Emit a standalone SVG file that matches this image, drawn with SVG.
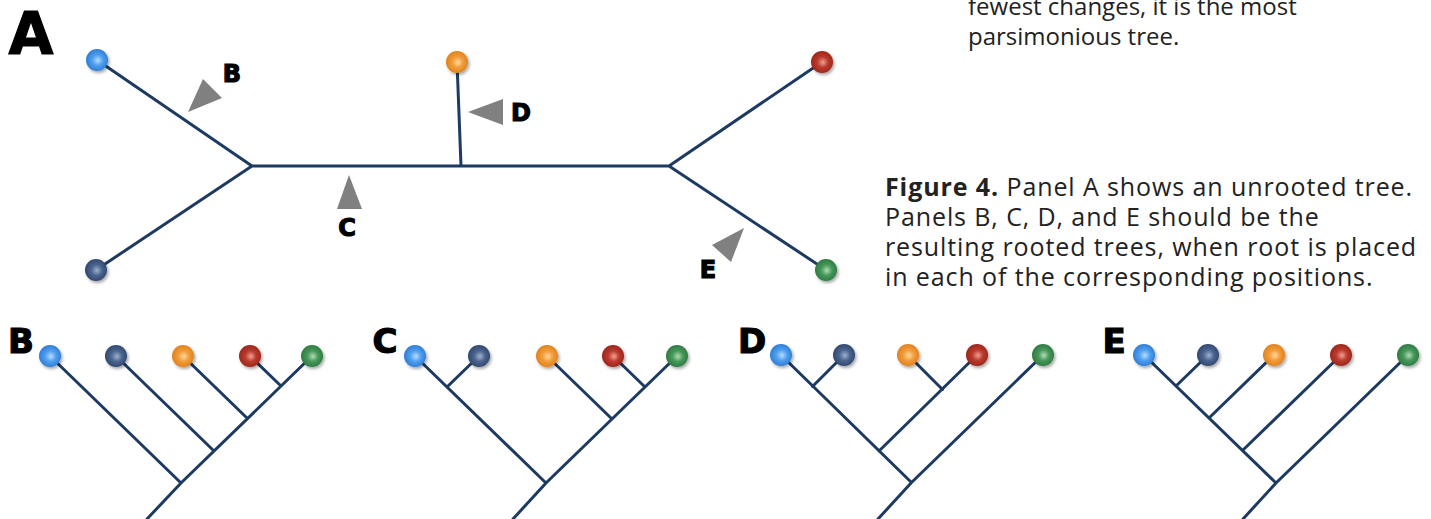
<svg xmlns="http://www.w3.org/2000/svg" width="1431" height="519" viewBox="0 0 1431 519">
<defs>
<radialGradient id="gBlue" cx="50%" cy="50%" r="55%" fx="55%" fy="52%"><stop offset="0" stop-color="#b5dcff"/><stop offset="0.45" stop-color="#4f9ff0"/><stop offset="1" stop-color="#2a78d0"/></radialGradient>
<radialGradient id="gNavy" cx="50%" cy="50%" r="55%" fx="55%" fy="52%"><stop offset="0" stop-color="#9fb2cc"/><stop offset="0.45" stop-color="#4b6590"/><stop offset="1" stop-color="#2d4468"/></radialGradient>
<radialGradient id="gOrange" cx="50%" cy="50%" r="55%" fx="55%" fy="52%"><stop offset="0" stop-color="#ffd8a0"/><stop offset="0.45" stop-color="#f29c38"/><stop offset="1" stop-color="#dc7e1c"/></radialGradient>
<radialGradient id="gRed" cx="50%" cy="50%" r="55%" fx="55%" fy="52%"><stop offset="0" stop-color="#f0a090"/><stop offset="0.45" stop-color="#bb3a2e"/><stop offset="1" stop-color="#972418"/></radialGradient>
<radialGradient id="gGreen" cx="50%" cy="50%" r="55%" fx="55%" fy="52%"><stop offset="0" stop-color="#b0dcb6"/><stop offset="0.45" stop-color="#46985a"/><stop offset="1" stop-color="#2c7640"/></radialGradient>
<filter id="sh" x="-50%" y="-50%" width="200%" height="200%"><feDropShadow dx="1.5" dy="2" stdDeviation="1.5" flood-color="#000" flood-opacity="0.35"/></filter>
<style>
.ln{stroke:#1d3a62;stroke-width:3;fill:none;stroke-linecap:round}
.n{filter:url(#sh)}
.blue{fill:url(#gBlue)}.navy{fill:url(#gNavy)}.orange{fill:url(#gOrange)}.red{fill:url(#gRed)}.green{fill:url(#gGreen)}
.arr{fill:#808080}
.lbl{font-family:"DejaVu Sans",sans-serif;font-weight:bold;fill:#000;stroke:#000;stroke-width:1.2;text-anchor:middle}
.cap{font-family:"Open Sans","Noto Sans",sans-serif;font-size:25px;letter-spacing:0.9px;fill:#222}
.top{font-family:"Open Sans","Noto Sans",sans-serif;font-size:24px;fill:#222}
</style>
</defs>
<rect width="1431" height="519" fill="#fff"/>

<g id="connectors">
<path class="ln" d="M97,60 L252,166 L96,270 M252,166 L669,166 M457,62 L461,166 M822,62 L669,166 L826,270"/>
<path class="ln" d="M312,356 L181,483 L147,519 M50,356 L181,483 M116,356 L214,451 M183,356 L247.5,418.5 M250,356 L281,386"/>
<path class="ln" d="M677,356 L546,483 L513,519 M415,356 L546,483 M479,356 L447,387 M547,356 L612,419 M613,356 L645,387"/>
<path class="ln" d="M1043,355 L911.5,482.5 L878,519 M781,355 L911.5,482.5 M844,355 L812.5,386.5 M977,355 L879,451 M908,355 L942.5,389.5"/>
<path class="ln" d="M1408,355 L1276,483 L1243,519 M1144,355 L1276,483 M1208,355 L1176,386 M1274,355 L1209,418 M1341,355 L1242.5,450.5"/>
</g>

<g id="panelA-nodes">
<g id="A-blue"><circle class="n blue" cx="97" cy="60" r="11"/></g>
<g id="A-navy"><circle class="n navy" cx="96" cy="270" r="11"/></g>
<g id="A-orange"><circle class="n orange" cx="457" cy="62" r="11"/></g>
<g id="A-red"><circle class="n red" cx="822" cy="62" r="11"/></g>
<g id="A-green"><circle class="n green" cx="826" cy="270" r="11"/></g>
</g>

<g id="panelB-nodes">
<g id="B-blue"><circle class="n blue" cx="50" cy="356" r="11"/></g>
<g id="B-navy"><circle class="n navy" cx="116" cy="356" r="11"/></g>
<g id="B-orange"><circle class="n orange" cx="183" cy="356" r="11"/></g>
<g id="B-red"><circle class="n red" cx="250" cy="356" r="11"/></g>
<g id="B-green"><circle class="n green" cx="312" cy="356" r="11"/></g>
</g>
<g id="panelC-nodes">
<g id="C-blue"><circle class="n blue" cx="415" cy="356" r="11"/></g>
<g id="C-navy"><circle class="n navy" cx="479" cy="356" r="11"/></g>
<g id="C-orange"><circle class="n orange" cx="547" cy="356" r="11"/></g>
<g id="C-red"><circle class="n red" cx="613" cy="356" r="11"/></g>
<g id="C-green"><circle class="n green" cx="677" cy="356" r="11"/></g>
</g>
<g id="panelD-nodes">
<g id="D-blue"><circle class="n blue" cx="781" cy="355" r="11"/></g>
<g id="D-navy"><circle class="n navy" cx="844" cy="355" r="11"/></g>
<g id="D-orange"><circle class="n orange" cx="908" cy="355" r="11"/></g>
<g id="D-red"><circle class="n red" cx="977" cy="355" r="11"/></g>
<g id="D-green"><circle class="n green" cx="1043" cy="355" r="11"/></g>
</g>
<g id="panelE-nodes">
<g id="E-blue"><circle class="n blue" cx="1144" cy="355" r="11"/></g>
<g id="E-navy"><circle class="n navy" cx="1208" cy="355" r="11"/></g>
<g id="E-orange"><circle class="n orange" cx="1274" cy="355" r="11"/></g>
<g id="E-red"><circle class="n red" cx="1341" cy="355" r="11"/></g>
<g id="E-green"><circle class="n green" cx="1408" cy="355" r="11"/></g>
</g>

<g id="root-markers">
<g id="mark-B"><polygon class="arr" points="188,112 203,79 222,98"/><text class="lbl" x="232" y="82" font-size="24">B</text></g>
<g id="mark-C"><polygon class="arr" points="337,209 349,175 362,209"/><text class="lbl" x="347" y="236" font-size="24">C</text></g>
<g id="mark-D"><polygon class="arr" points="468,112 503,99 503,125"/><text class="lbl" x="521" y="121" font-size="24">D</text></g>
<g id="mark-E"><polygon class="arr" points="712,245 744,228 731,262"/><text class="lbl" x="708" y="278" font-size="24">E</text></g>
</g>

<g id="panel-labels">
<text class="lbl" x="31" y="54" font-size="58" stroke-width="2.5">A</text>
<text class="lbl" x="21" y="353" font-size="34" stroke-width="1.6">B</text>
<text class="lbl" x="385" y="353" font-size="34" stroke-width="1.6">C</text>
<text class="lbl" x="752" y="353" font-size="34" stroke-width="1.6">D</text>
<text class="lbl" x="1114" y="353" font-size="34" stroke-width="1.6">E</text>
</g>

<g id="top-text" class="top">
<text x="968" y="15">fewest changes, it is the most</text>
<text x="968" y="45">parsimonious tree.</text>
</g>

<g id="caption" class="cap">
<text x="885" y="196"><tspan font-weight="bold">Figure 4.</tspan> Panel A shows an unrooted tree.</text>
<text x="885" y="226">Panels B, C, D, and E should be the</text>
<text x="885" y="256">resulting rooted trees, when root is placed</text>
<text x="885" y="286">in each of the corresponding positions.</text>
</g>
</svg>
